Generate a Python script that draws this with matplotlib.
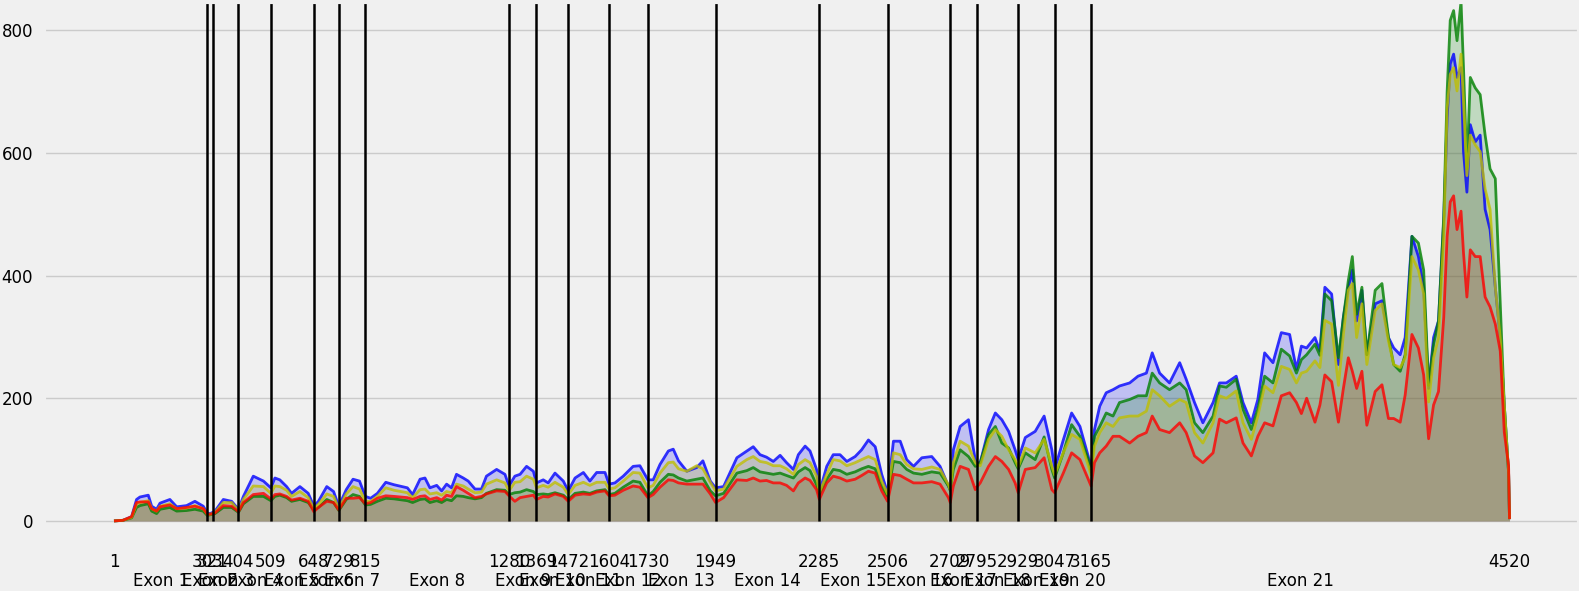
import numpy as np
import matplotlib
matplotlib.use('Agg')
import matplotlib.pyplot as plt

# exon boundaries on the transcript (x axis ticks)
exon_bounds = [1, 303, 321, 404, 509, 648, 729, 815, 1280, 1369, 1472, 1604,
               1730, 1949, 2285, 2506, 2709, 2795, 2929, 3047, 3165, 4520]

# coverage: position, then one list per sample
pos = [1, 30, 58, 74, 85, 112, 123, 139, 150, 182, 204, 236, 263, 290, 303, 312,
       321, 328, 355, 382, 404, 420, 452, 485, 509, 522, 538, 560, 576, 603, 630,
       648, 663, 690, 712, 729, 753, 775, 796, 815, 832, 854, 881, 908, 951, 968,
       992, 1008, 1024, 1046, 1062, 1078, 1094, 1110, 1132, 1148, 1170, 1191,
       1207, 1240, 1267, 1280, 1299, 1316, 1337, 1359, 1369, 1391, 1407, 1429,
       1456, 1472, 1494, 1521, 1542, 1564, 1591, 1604, 1623, 1650, 1682, 1704,
       1730, 1747, 1769, 1796, 1812, 1829, 1856, 1888, 1908, 1932, 1949, 1975,
       2018, 2050, 2071, 2093, 2114, 2136, 2158, 2179, 2201, 2217, 2239, 2255,
       2276, 2285, 2309, 2330, 2352, 2374, 2401, 2422, 2444, 2466, 2487, 2506,
       2525, 2547, 2568, 2590, 2617, 2649, 2676, 2703, 2709, 2719, 2741, 2768,
       2790, 2795, 2806, 2833, 2855, 2876, 2898, 2919, 2929, 2952, 2984, 3013,
       3038, 3047, 3075, 3102, 3129, 3156, 3165, 3176, 3193, 3214, 3236, 3257,
       3290, 3317, 3344, 3363, 3387, 3419, 3452, 3473, 3500, 3527, 3560, 3581,
       3603, 3635, 3657, 3684, 3705, 3727, 3754, 3781, 3808, 3830, 3846, 3863,
       3890, 3906, 3922, 3944, 3966, 3982, 3998, 4011, 4025, 4042, 4058, 4085,
       4107, 4128, 4145, 4166, 4182, 4204, 4225, 4242, 4258, 4274, 4290, 4307,
       4318, 4328, 4339, 4350, 4363, 4371, 4382, 4393, 4409, 4425, 4441, 4457,
       4474, 4490, 4503, 4517, 4520]

blue = [0, 1, 7, 35, 39, 42, 24, 19, 29, 35, 23, 25, 32, 24, 13, 12,
        14, 16, 35, 32, 19, 40, 73, 65, 54, 70, 67, 56, 45, 56, 45,
        24, 32, 56, 48, 24, 51, 68, 65, 40, 37, 45, 63, 59, 54, 43,
        68, 70, 54, 58, 49, 60, 54, 76, 70, 65, 52, 52,
        73, 84, 76, 57, 73, 76, 89, 81, 62, 67, 62, 78,
        65, 49, 70, 79, 65, 79, 79, 60, 62, 73, 89, 90,
        67, 67, 92, 114, 117, 98, 81, 87, 98, 65, 54, 56,
        103, 114, 121, 108, 104, 97, 107, 95, 84, 108, 122, 114,
        84, 46, 89, 108, 108, 97, 105, 116, 132, 121, 76, 46,
        130, 130, 100, 89, 103, 105, 89, 57, 50, 116, 154, 165,
        100, 95, 95, 149, 176, 165, 146, 116, 100, 136, 146, 171,
        116, 84, 132, 176, 154, 105, 84, 149, 187, 209, 214, 220,
        225, 236, 241, 274, 241, 225, 258, 231, 193, 160, 193, 225,
        225, 236, 193, 160, 198, 274, 258, 307, 304, 247, 285, 282,
        299, 277, 381, 370, 255, 332, 381, 409, 326, 376, 271, 354,
        359, 299, 282, 271, 299, 464, 431, 381, 216, 299, 326, 491,
        657, 745, 761, 723, 739, 602, 536, 646, 618, 629, 508, 475,
        381, 299, 189, 79, 3]

green = [0, 1, 5, 22, 25, 28, 16, 12, 19, 22, 16, 17, 19, 16, 9, 10,
         11, 12, 22, 22, 14, 28, 40, 40, 33, 40, 42, 38, 32, 35, 30,
         18, 22, 35, 30, 17, 35, 43, 40, 26, 27, 32, 37, 36, 33, 30,
         35, 36, 30, 33, 30, 35, 33, 41, 40, 38, 36, 38,
         45, 51, 50, 43, 46, 47, 51, 48, 43, 44, 43, 46,
         42, 35, 45, 47, 45, 49, 51, 43, 45, 55, 65, 63,
         41, 48, 63, 76, 75, 70, 65, 68, 70, 49, 41, 45,
         78, 82, 87, 80, 78, 76, 78, 74, 70, 80, 87, 82,
         59, 43, 68, 84, 82, 76, 80, 85, 89, 85, 57, 40,
         97, 95, 84, 78, 76, 80, 78, 57, 50, 84, 116, 105,
         89, 90, 95, 141, 154, 127, 119, 95, 85, 111, 100, 137,
         84, 70, 111, 157, 138, 100, 80, 138, 154, 176, 171, 193,
         198, 204, 204, 241, 225, 214, 225, 214, 160, 144, 171, 220,
         218, 231, 182, 149, 182, 236, 225, 280, 269, 241, 263, 271,
         288, 270, 370, 359, 266, 332, 392, 431, 337, 381, 271, 376,
         387, 299, 255, 244, 271, 464, 453, 409, 221, 288, 326, 497,
         700, 816, 832, 783, 847, 739, 574, 723, 706, 695, 629, 574,
         558, 354, 189, 79, 3]

yellow = [0, 1, 6, 28, 30, 33, 20, 16, 24, 28, 20, 21, 25, 20, 11, 11,
          12, 14, 30, 30, 17, 35, 57, 56, 45, 57, 56, 50, 40, 48, 38,
          20, 27, 44, 40, 20, 44, 56, 52, 32, 32, 40, 54, 50, 46, 38,
          51, 52, 44, 46, 42, 48, 46, 60, 57, 52, 46, 47,
          60, 67, 62, 49, 63, 64, 73, 68, 54, 58, 55, 63,
          55, 43, 58, 63, 58, 63, 63, 52, 54, 65, 79, 78,
          54, 58, 78, 95, 96, 85, 81, 90, 85, 63, 49, 52,
          89, 100, 105, 97, 95, 90, 90, 85, 76, 92, 100, 95,
          73, 46, 76, 100, 98, 90, 95, 100, 105, 100, 65, 44,
          111, 108, 92, 85, 84, 88, 84, 59, 50, 95, 130, 122,
          95, 92, 90, 133, 149, 138, 116, 100, 88, 119, 111, 133,
          89, 75, 111, 141, 133, 90, 75, 122, 144, 160, 154, 168,
          171, 171, 179, 214, 204, 187, 198, 193, 144, 127, 160, 204,
          200, 212, 160, 133, 171, 220, 209, 252, 247, 225, 241, 244,
          261, 250, 327, 321, 221, 304, 376, 387, 299, 354, 255, 343,
          354, 293, 255, 250, 266, 431, 409, 370, 194, 266, 299, 464,
          673, 728, 739, 701, 761, 684, 563, 629, 613, 602, 541, 508,
          381, 299, 189, 79, 3]

red = [0, 1, 7, 30, 31, 31, 20, 16, 23, 26, 20, 22, 24, 20, 11, 11,
       12, 13, 25, 24, 15, 30, 43, 45, 36, 43, 44, 40, 34, 37, 32,
       15, 22, 32, 30, 18, 37, 37, 38, 28, 30, 37, 41, 40, 38, 35,
       40, 41, 35, 38, 34, 42, 40, 56, 50, 45, 38, 40,
       44, 49, 48, 41, 32, 38, 40, 42, 35, 40, 39, 44,
       40, 32, 42, 44, 43, 47, 49, 41, 42, 50, 57, 55,
       38, 43, 55, 67, 66, 62, 60, 60, 60, 44, 30, 38,
       67, 66, 70, 65, 66, 62, 62, 58, 49, 62, 70, 66,
       51, 35, 62, 73, 70, 65, 68, 74, 81, 78, 49, 32,
       76, 74, 68, 62, 62, 64, 60, 38, 30, 57, 89, 84,
       51, 55, 62, 89, 105, 97, 84, 62, 46, 84, 87, 103,
       51, 46, 78, 111, 100, 68, 57, 95, 111, 122, 138, 138,
       127, 138, 144, 171, 149, 144, 160, 144, 106, 95, 111, 166,
       160, 168, 127, 106, 138, 160, 155, 204, 209, 193, 175, 200,
       161, 189, 238, 227, 161, 216, 266, 244, 216, 244, 156, 211,
       222, 167, 167, 161, 205, 304, 282, 238, 134, 189, 211, 332,
       464, 520, 530, 475, 505, 437, 365, 442, 431, 431, 365, 349,
       321, 277, 145, 90, 3]

plt.style.use('fivethirtyeight')
fig = plt.figure(figsize=(15.79, 5.91), dpi=100)
ax = fig.add_axes([0.028, 0.076, 0.972, 0.9206])

# shaded areas first (red at the bottom of the stack), lines on top
for vals, c in zip([red, blue, green, yellow], ['r', 'b', 'g', 'y']):
    ax.fill_between(pos, 0, vals, color=c, alpha=0.2, linewidth=0)
for vals, c in zip([blue, green, yellow, red], ['b', 'g', 'y', 'r']):
    ax.plot(pos, vals, color=c, alpha=0.8, linewidth=2)

ax.vlines(exon_bounds[1:-1], 0, 846, colors='k', linewidth=1.8)

ax.set_xlim(-225, 4745)
ax.set_ylim(-41, 846)
ax.set_yticks([0, 200, 400, 600, 800])

mids = [(exon_bounds[i] + exon_bounds[i + 1]) / 2 for i in range(len(exon_bounds) - 1)]
ax.set_xticks(exon_bounds)
ax.set_xticklabels([str(b) for b in exon_bounds])
ax.set_xticks(mids, minor=True)
ax.set_xticklabels(['Exon %d' % (i + 1) for i in range(len(mids))], minor=True)
ax.tick_params(axis='x', which='major', pad=5, labelsize=12, length=0)
ax.tick_params(axis='x', which='minor', pad=19, labelsize=12, length=0)
ax.tick_params(axis='y', labelsize=12, length=0, pad=8)
ax.grid(axis='x', visible=False)
ax.grid(axis='y', color='#cbcbcb', linewidth=1)

fig.savefig('out.png', dpi=100)
